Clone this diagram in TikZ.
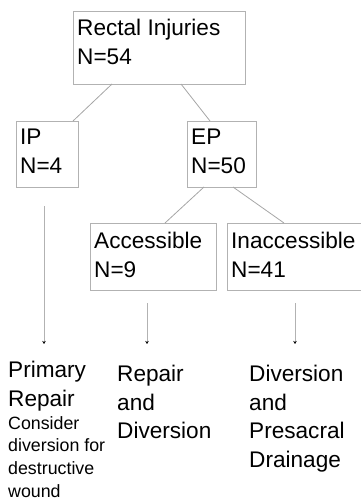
\documentclass[tikz,border=0pt]{standalone}
\usepackage{fontspec}
\setmainfont{Liberation Sans}
\usetikzlibrary{arrows.meta}
\begin{document}
\begin{tikzpicture}[x=1bp,y=-1bp,
  box/.style={draw=black!30,line width=0.8bp,inner sep=0pt},
  txt/.style={anchor=north west,inner sep=0pt,align=left,font=\fontsize{22.6bp}{28.5bp}\selectfont},
  link/.style={draw=black!35,line width=0.8bp},
  arr/.style={draw=black!30,line width=0.8bp,-{Stealth[length=3bp,width=3.5bp,black]}}]
\useasboundingbox (0,0) rectangle (360,502);
% boxes
\node[box,minimum width=172bp,minimum height=73bp,anchor=north west] (top) at (73,11) {};
\node[box,minimum width=62bp,minimum height=66bp,anchor=north west] (ip) at (16,121) {};
\node[box,minimum width=69bp,minimum height=66bp,anchor=north west] (ep) at (187,121) {};
\node[box,minimum width=126bp,minimum height=67bp,anchor=north west] (acc) at (90,223) {};
\node[box,minimum width=134bp,minimum height=67bp,anchor=north west] (inacc) at (227,223) {};
% texts
\node[txt] (ttop) at (77,19) {Rectal Injuries\\N=54};
\node[txt] (tip) at (20,129) {IP\\N=4};
\node[txt] (tep) at (191,129) {EP\\N=50};
\node[txt] (tacc) at (94,232) {Accessible\\N=9};
\node[txt] (tinacc) at (231,232) {Inaccessible\\N=41};
% connectors
\coordinate (t1) at (112,84); \coordinate (i1) at (73,121);
\coordinate (t2) at (181,84); \coordinate (e1) at (210,121);
\coordinate (e2) at (204,187); \coordinate (a1) at (165,223);
\coordinate (e3) at (233,187); \coordinate (n1) at (284,223);
\draw[link] (t1) -- (i1);
\draw[link] (t2) -- (e1);
\draw[link] (e2) -- (a1);
\draw[link] (e3) -- (n1);
% arrows
\coordinate (s1) at (44,206); \coordinate (d1) at (44,344);
\coordinate (s2) at (147,303); \coordinate (d2) at (147,344);
\coordinate (s3) at (295,303); \coordinate (d3) at (295,344);
\draw[arr] (s1) -- (d1);
\draw[arr] (s2) -- (d2);
\draw[arr] (s3) -- (d3);
% outcomes
\node[txt] (o1) at (8,361) {Primary\\Repair};
\node[txt,font=\fontsize{17.8bp}{22.8bp}\selectfont] (o1b) at (8,416) {Consider\\diversion for\\destructive\\wound};
\node[txt] (o2) at (117,365) {Repair\\and\\Diversion};
\node[txt] (o3) at (249,365) {Diversion\\and\\Presacral\\Drainage};
\end{tikzpicture}
\end{document}
